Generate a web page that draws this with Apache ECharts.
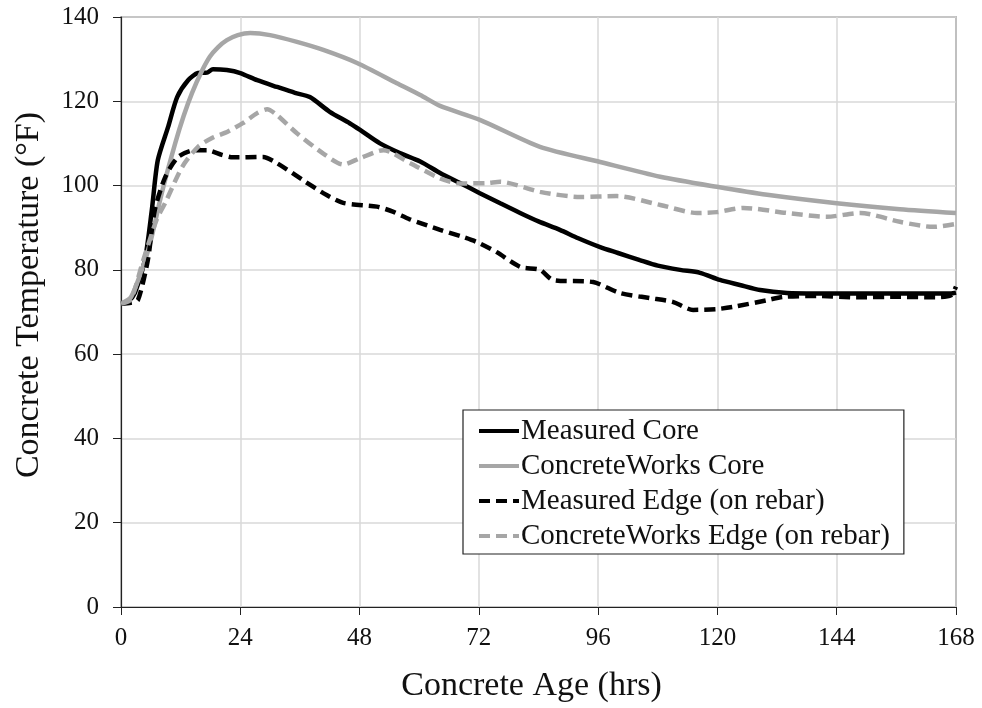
<!DOCTYPE html>
<html>
<head>
<meta charset="utf-8">
<script src="https://cdn.jsdelivr.net/npm/echarts@6/dist/echarts.min.js"></script>
<style>
  html, body { margin: 0; padding: 0; background: #fff; }
  #chart { width: 982px; height: 708px; }
</style>
</head>
<body>
<div id="chart"></div>
<script>
// Concrete temperature histories: measured vs. ConcreteWorks model
const xTicks = [0, 24, 48, 72, 96, 120, 144, 168];
const yTicks = [0, 20, 40, 60, 80, 100, 120, 140];

const measuredCoreHours = [0, 1.5, 2.8, 4.8, 6.2, 7.4, 9.5, 11.3, 13.5, 15.5, 17.3, 18.5, 21.3, 24, 27.4, 31.4, 35, 38, 42, 46, 48.1, 52.1, 56.1, 60.2, 64.2, 68.2, 72.2, 76.3, 80.3, 84, 88.3, 92, 96.4, 100, 104.4, 108, 112.5, 116.5, 120.5, 124.5, 128.6, 134, 140, 150, 160, 167, 168];
const measuredCoreTemps = [72, 72.6, 74.5, 82.3, 94.2, 106, 114, 121, 125, 126.7, 126.8, 127.6, 127.4, 126.7, 125, 123.4, 122, 121, 117.5, 114.8, 113.2, 110, 107.7, 105.7, 103, 100.6, 98.2, 95.8, 93.5, 91.5, 89.5, 87.5, 85.4, 84, 82.3, 81, 80, 79.3, 77.6, 76.4, 75.2, 74.5, 74.4, 74.4, 74.4, 74.4, 74.6];

const concreteWorksCoreHours = [0, 2, 4.4, 6, 8.2, 10.9, 12.6, 14.3, 16.2, 17.9, 19.5, 21.3, 23.5, 26, 30, 35.4, 40.7, 47.5, 55.5, 60.2, 64.2, 72.2, 84.3, 96.4, 108.5, 119.9, 130, 144, 156.7, 168];
const concreteWorksCoreTemps = [72, 73.5, 80.7, 87, 98.2, 110, 116.5, 122, 127, 130.6, 132.8, 134.5, 135.7, 136.2, 135.7, 134.1, 132.2, 129.1, 124.3, 121.5, 118.9, 115.6, 109.2, 105.6, 102.1, 99.7, 97.8, 95.8, 94.4, 93.5];

const measuredEdgeHours = [0, 2, 3.4, 5.4, 6.8, 8.9, 11.5, 14.9, 17.3, 20.3, 22.5, 28.6, 31.4, 36.6, 40.7, 44.7, 51.5, 54.7, 58.1, 64.2, 68.8, 71.6, 75.6, 80.3, 84.3, 86.9, 95, 100.4, 106.4, 111, 115.1, 119.9, 123.1, 130, 133.2, 140, 148, 156, 164, 167, 168];
const measuredEdgeTemps = [72, 72.2, 72.8, 82.3, 94.2, 102, 106.8, 108.4, 108.4, 107.3, 106.7, 106.8, 105.3, 101.3, 98.2, 95.9, 95, 93.8, 92, 89.5, 87.8, 86.6, 84.2, 80.7, 80, 77.6, 77.1, 74.5, 73.3, 72.4, 70.5, 70.7, 71.2, 72.8, 73.6, 73.8, 73.5, 73.6, 73.5, 74, 76];

const concreteWorksEdgeHours = [0, 2, 4.4, 7.2, 8.9, 12.3, 15.5, 18.5, 20.9, 24.5, 27.4, 29.4, 31.4, 35.4, 40.7, 44.7, 48.1, 52.8, 58.2, 64.2, 68.2, 73.6, 76.3, 84.3, 92.4, 99.8, 108.5, 115.9, 119.9, 125.2, 134, 142, 148.7, 156.7, 163.4, 168];
const concreteWorksEdgeTemps = [72, 73, 82, 92, 95.9, 104.4, 109.2, 111.4, 112.5, 114.8, 117.2, 118.1, 116.7, 112.4, 107.6, 105, 106.5, 108.4, 105.3, 101.7, 100.5, 100.6, 100.9, 98.5, 97.3, 97.5, 95.4, 93.5, 93.7, 94.7, 93.5, 92.6, 93.5, 91.4, 90.2, 90.9];

const seriesNames = ['Measured Core', 'ConcreteWorks Core', 'Measured Edge (on rebar)', 'ConcreteWorks Edge (on rebar)'];

const pairs = (xs, ys) => xs.map((x, i) => [x, ys[i]]);

const FONT = '"Liberation Serif", "Times New Roman", serif';
const BLACK = '#000000';
const GRAY = '#a6a6a6';

function lineSeries(name, data, color, dashed) {
  return {
    name: name,
    type: 'line',
    data: data,
    symbol: 'none',
    smooth: 0.25,
    animation: false,
    lineStyle: { color: color, width: 4.5, type: dashed ? [11, 6] : 'solid' },
    itemStyle: { color: color }
  };
}

const chart = echarts.init(document.getElementById('chart'), null, { renderer: 'canvas' });
chart.setOption({
  backgroundColor: '#ffffff',
  animation: false,
  grid: {
    left: 121, right: 26, top: 17, bottom: 101,
    show: true, borderColor: '#222', borderWidth: 1.2, backgroundColor: 'transparent'
  },
  graphic: [{
    type: 'text',
    x: 29, y: 295,
    rotation: Math.PI / 2,
    style: {
      text: 'Concrete Temperature (°F)',
      font: '34px ' + FONT,
      fill: '#111',
      textAlign: 'center',
      textVerticalAlign: 'middle'
    }
  }],
  legend: {
    orient: 'vertical',
    left: 463, top: 410,
    padding: [6, 14, 3, 14],
    itemWidth: 40, itemHeight: 14, itemGap: 5,
    borderColor: '#222', borderWidth: 1.2,
    backgroundColor: '#ffffff',
    itemStyle: { opacity: 0 },
    lineStyle: { width: 4 },
    data: seriesNames,
    textStyle: { fontFamily: FONT, fontSize: 29, lineHeight: 30, color: '#111', padding: [0, 0, 0, -3] }
  },
  xAxis: {
    type: 'value',
    min: 0, max: 168, interval: 24,
    name: 'Concrete Age (hrs)',
    nameLocation: 'middle',
    nameGap: 62,
    nameTextStyle: { fontFamily: FONT, fontSize: 34, color: '#111', padding: [0, 14, 0, 0] },
    axisLine: { show: true, lineStyle: { color: '#222', width: 1.2 } },
    axisTick: { show: true, length: 8, lineStyle: { color: '#222' } },
    axisLabel: {
      fontFamily: FONT, fontSize: 25, color: '#111', margin: 19,
      formatter: v => xTicks.includes(v) ? String(v) : ''
    },
    splitLine: { show: true, lineStyle: { color: '#d9d9d9', width: 1.5 } }
  },
  yAxis: {
    type: 'value',
    min: 0, max: 140, interval: 20,
    axisLine: { show: true, lineStyle: { color: '#222', width: 1.2 } },
    axisTick: { show: true, length: 8, lineStyle: { color: '#222' } },
    axisLabel: {
      fontFamily: FONT, fontSize: 25, color: '#111', margin: 22,
      formatter: v => yTicks.includes(v) ? String(v) : ''
    },
    splitLine: { show: true, lineStyle: { color: '#d9d9d9', width: 1.5 } }
  },
  series: [
    lineSeries(seriesNames[0], pairs(measuredCoreHours, measuredCoreTemps), BLACK, false),
    lineSeries(seriesNames[1], pairs(concreteWorksCoreHours, concreteWorksCoreTemps), GRAY, false),
    lineSeries(seriesNames[2], pairs(measuredEdgeHours, measuredEdgeTemps), BLACK, true),
    lineSeries(seriesNames[3], pairs(concreteWorksEdgeHours, concreteWorksEdgeTemps), GRAY, true)
  ]
});
</script>
</body>
</html>
